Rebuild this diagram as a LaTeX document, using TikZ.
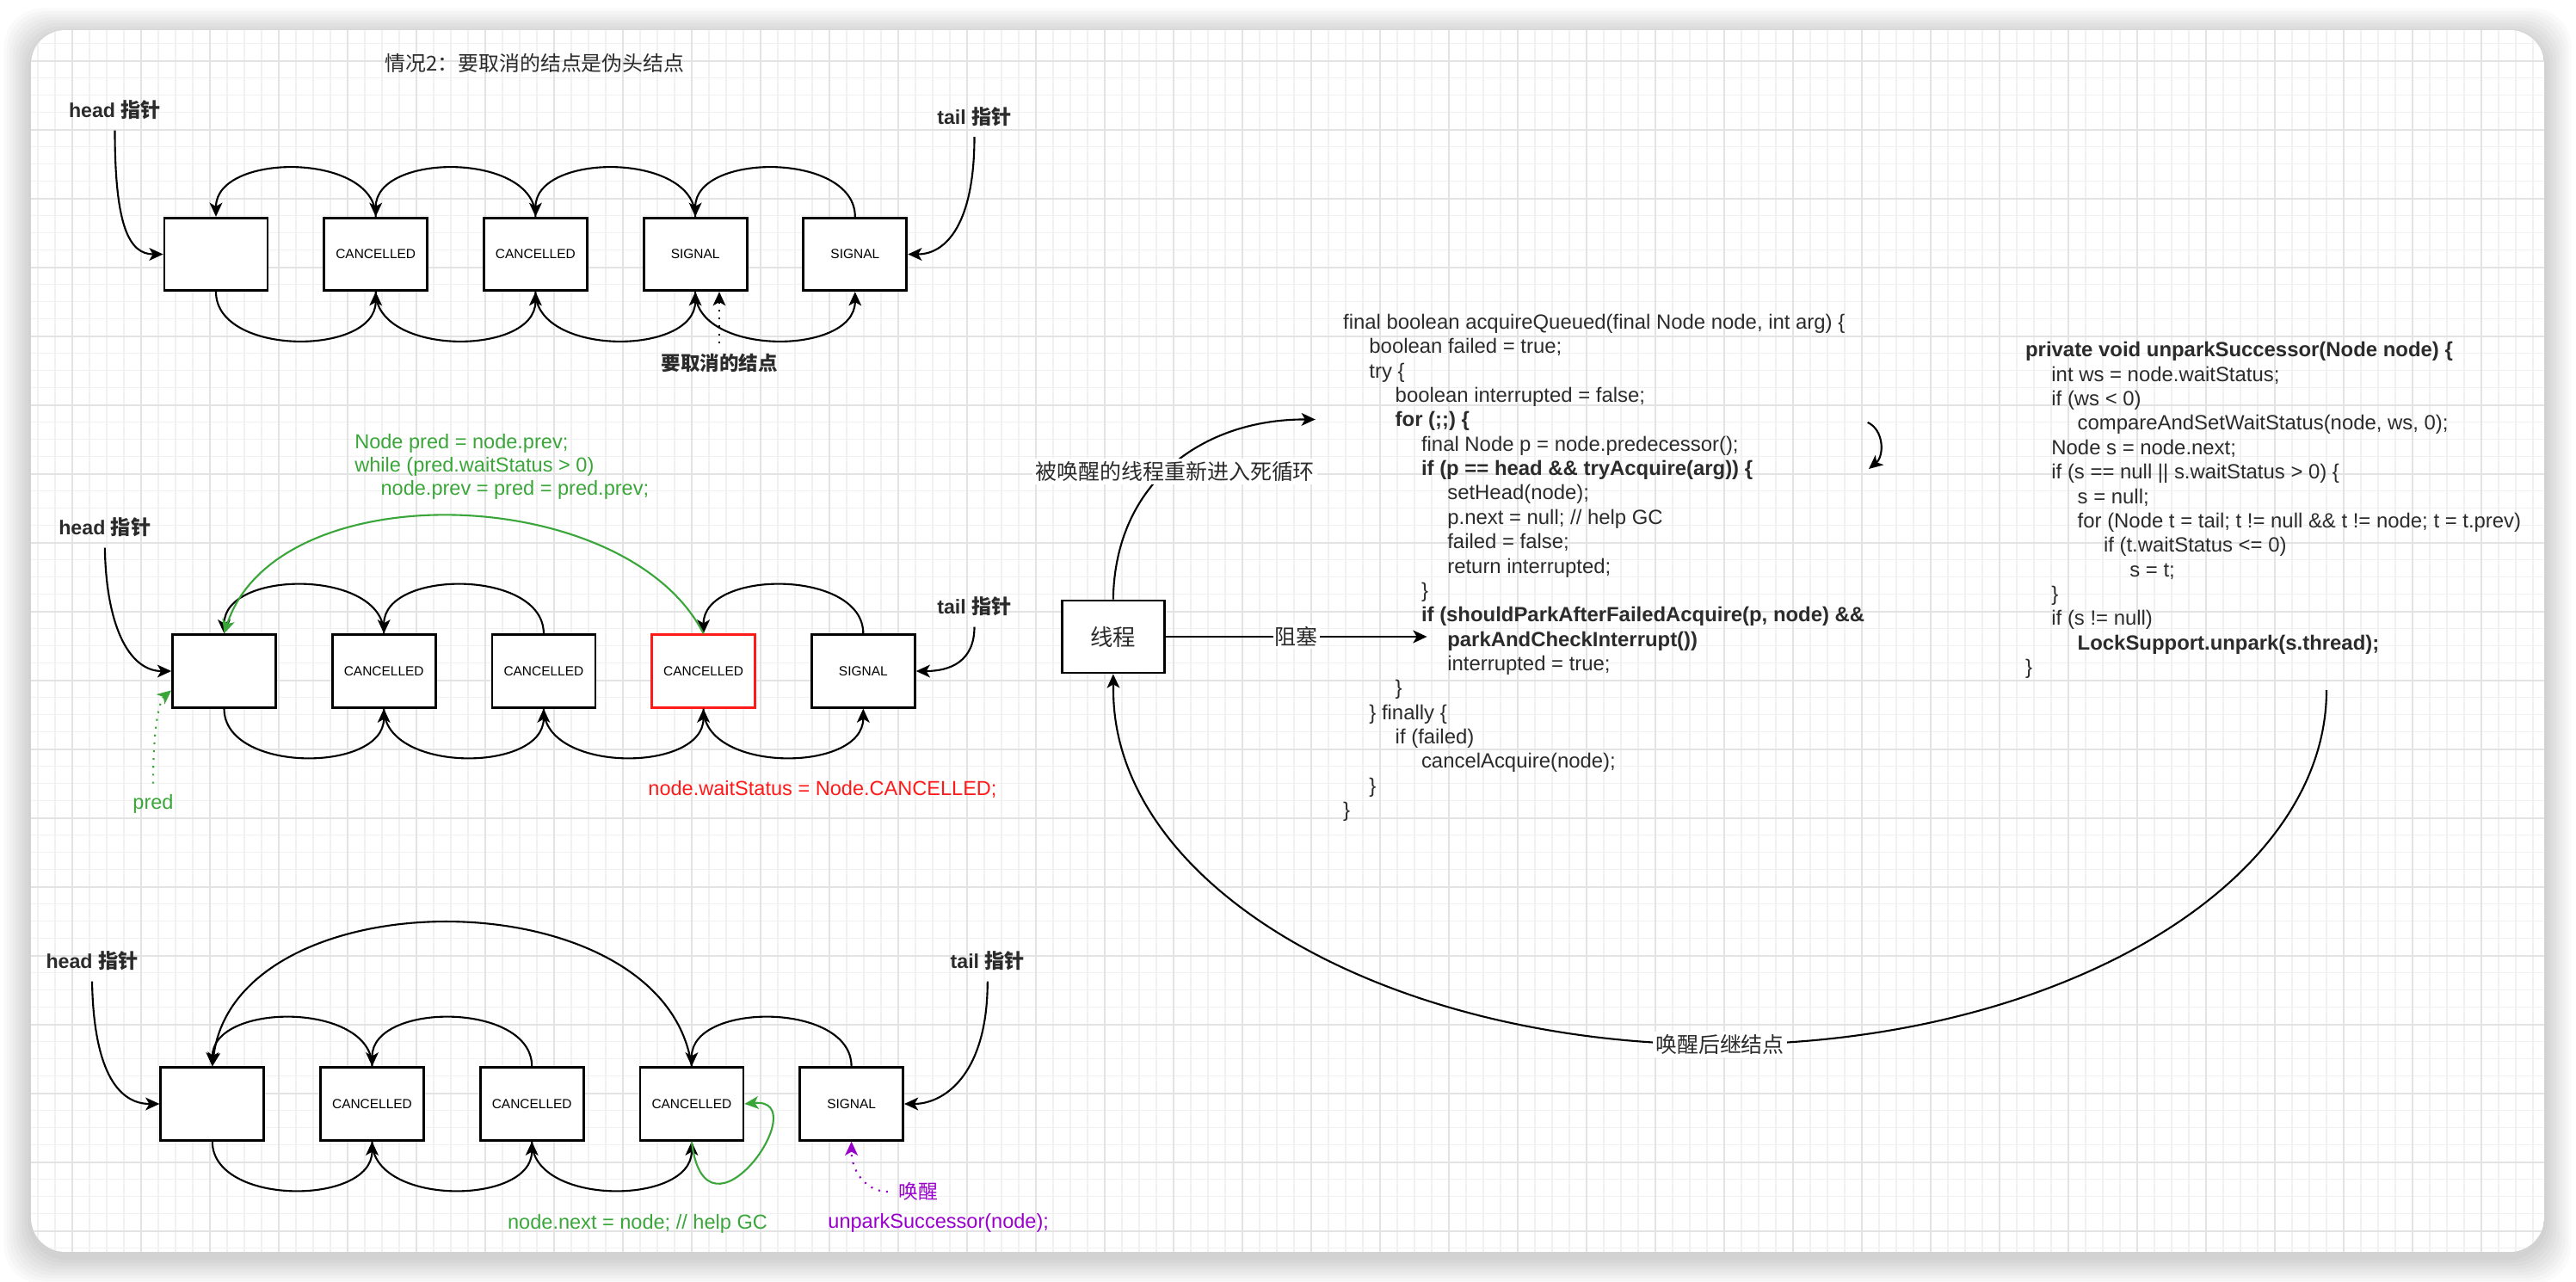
\documentclass[tikz,border=0pt]{standalone}
\usepackage{fontspec}
\setmainfont{Liberation Sans}
\newfontfamily\cjk{Noto Sans CJK SC}
\usetikzlibrary{arrows.meta}
\definecolor{colInk}{HTML}{2B2B2B}
\definecolor{colGreen}{HTML}{3AA63A}
\definecolor{colRed}{HTML}{FF1A1A}
\definecolor{colPurple}{HTML}{9900CC}
\definecolor{colGridMinor}{HTML}{F1F1F1}
\definecolor{colGridMajor}{HTML}{E3E3E3}
\def\codefont{\fontsize{6.8pt}{8.07pt}\selectfont}
\def\notefont{\fontsize{6.7pt}{7.7pt}\selectfont}
\def\ptrfont{\fontsize{6.6pt}{8pt}\selectfont\bfseries}
\def\boxfont{\fontsize{4.4pt}{5.2pt}\selectfont}
\def\cnfont{\fontsize{7.1pt}{8.5pt}\selectfont\cjk}
\newlength\codestep
\setlength\codestep{3.03mm}
\newcommand{\cind}[1]{\hspace*{#1\codestep}}
\newcommand{\qbox}[4][draw=black]{%
  \node[qnode, #1] (#2) at (#3) {#4};}
\newcommand{\prevarc}[2]{%
  \draw[qlink] (#1.north) .. controls +(0,0.75) and +(0,0.75) .. (#2.north);}
\newcommand{\nextarc}[2]{%
  \draw[qlink] (#1.south) .. controls +(0,-0.75) and +(0,-0.75) .. (#2.south);}
\tikzset{
  qnode/.style={rectangle, fill=white, line width=0.8pt, minimum width=1.2cm,
    minimum height=0.845cm, inner sep=0pt, font=\boxfont, text=black},
  qlink/.style={-{Stealth[length=4.6pt, width=4.2pt, inset=1.2pt]}, line width=0.6pt, draw=black},
  ptrlbl/.style={font=\ptrfont, text=colInk},
  notelbl/.style={font=\notefont, text=colInk},
  cnlbl/.style={font=\cnfont, text=colInk},
  % multi-line blocks: base = baseline of the LAST line
  codeblk/.style={font=\codefont, align=left, inner sep=0pt, text=colInk, anchor=base west}
}

\begin{document}
\begin{tikzpicture}
\useasboundingbox (0,0) rectangle (29.94,-14.90);
\fill[white] (0,0) rectangle (29.94,-14.90);

% ===================== CARD + GRID =====================
\foreach \s in {1,...,9}{
  \pgfmathsetmacro{\sw}{\s*0.035}
  \fill[black, opacity=0.018, rounded corners=0.45cm]
    (0.36-\sw,-0.35+\sw-0.06) rectangle (29.57+\sw,-14.55-\sw-0.06);
}
\begin{scope}
  \clip[rounded corners=0.4cm] (0.36,-0.35) rectangle (29.57,-14.55);
  \fill[white] (0.36,-0.35) rectangle (29.57,-14.55);
  \draw[draw=colGridMinor, line width=0.45pt, shift={(0.04,-0.107)}, step=0.2] (0,0.2) grid (29.6,-14.6);
  \draw[draw=colGridMajor, line width=0.6pt, shift={(0.04,-0.707)}, step=0.8] (0,0.8) grid (29.6,-14.4);
\end{scope}

% ===================== ROW 1: dummy head is cancelled =====================
\node[cnlbl, font=\fontsize{6.8pt}{8pt}\selectfont\cjk] (title) at (6.215,-0.73)
  {情况2：要取消的结点是伪头结点};
\node[ptrlbl] (headA) at (1.335,-1.28) {head {\cjk 指针}};
\node[ptrlbl] (tailA) at (11.325,-1.355) {tail {\cjk 指针}};

\qbox{a1}{2.510,-2.955}{}
\qbox{a2}{4.367,-2.955}{CANCELLED}
\qbox{a3}{6.224,-2.955}{CANCELLED}
\qbox{a4}{8.081,-2.955}{SIGNAL}
\qbox{a5}{9.938,-2.955}{SIGNAL}

\prevarc{a2}{a1}
\prevarc{a3}{a2}
\prevarc{a4}{a3}
\prevarc{a5}{a4}
\nextarc{a1}{a2}
\nextarc{a2}{a3}
\nextarc{a3}{a4}
\nextarc{a4}{a5}

\draw[qlink] (headA.south) .. controls +(0,-1.1) and +(-0.4,0) .. (a1.west);
\draw[qlink] (tailA.south) .. controls +(0,-1.0) and +(0.45,0) .. (a5.east);

\node[ptrlbl, font=\fontsize{6.4pt}{8pt}\selectfont\bfseries] (cancelLbl) at (8.36,-4.22) {\cjk 要取消的结点};
\draw[qlink, dotted] (cancelLbl.north) -- (cancelLbl.north |- a4.south);

% ===================== ROW 2: skip cancelled predecessors =====================
\node[codeblk, font=\notefont, text=colGreen] (predCode) at (4.116,-5.76)
  {Node pred = node.prev;\\
   while (pred.waitStatus > 0)\\
   \cind{1}node.prev = pred = pred.prev;};
\node[ptrlbl] (headB) at (1.218,-6.13) {head {\cjk 指针}};
\node[ptrlbl] (tailB) at (11.325,-7.05) {tail {\cjk 指针}};

\qbox{b1}{2.605,-7.80}{}
\qbox{b2}{4.462,-7.80}{CANCELLED}
\qbox{b3}{6.319,-7.80}{CANCELLED}
\qbox[draw=colRed]{b4}{8.176,-7.80}{CANCELLED}
\qbox{b5}{10.033,-7.80}{SIGNAL}

\prevarc{b2}{b1}
\prevarc{b3}{b2}
\prevarc{b5}{b4}
\nextarc{b1}{b2}
\nextarc{b2}{b3}
\nextarc{b3}{b4}
\nextarc{b4}{b5}
\draw[qlink, draw=colGreen] (b4.north) .. controls +(-0.9,1.76) and +(0.61,1.88) .. (b1.north);

\draw[qlink] (headB.south) .. controls +(0.02,-1.0) and +(-0.45,0) .. (b1.west);
\draw[qlink] (tailB.south) .. controls +(0,-0.4) and +(0.4,0) .. (b5.east);

\node[notelbl, text=colGreen] (predLbl) at (1.78,-9.34) {pred};
\draw[qlink, draw=colGreen, dotted] (predLbl.north) .. controls +(0,0.75) and +(-0.12,-0.1) .. (b1.200);
\node[notelbl, text=colRed] (cancelNote) at (9.56,-9.175) {node.waitStatus = Node.CANCELLED;};

% ===================== ROW 3: unlink and wake successor =====================
\node[ptrlbl] (headC) at (1.07,-11.17) {head {\cjk 指针}};
\node[ptrlbl] (tailC) at (11.478,-11.17) {tail {\cjk 指针}};

\qbox{c1}{2.468,-12.83}{}
\qbox{c2}{4.325,-12.83}{CANCELLED}
\qbox{c3}{6.182,-12.83}{CANCELLED}
\qbox{c4}{8.039,-12.83}{CANCELLED}
\qbox{c5}{9.896,-12.83}{SIGNAL}

\prevarc{c2}{c1}
\prevarc{c3}{c2}
\prevarc{c5}{c4}
\nextarc{c1}{c2}
\nextarc{c2}{c3}
\nextarc{c3}{c4}
\draw[qlink] (c4.north) .. controls +(-0.31,2.22) and +(0.27,2.23) .. (c1.north);
\draw[qlink, draw=colGreen] (c4.south) .. controls +(0.16,-1.35) and +(0.85,0.08) .. (c4.east);

\draw[qlink] (headC.south) .. controls +(0.02,-1.1) and +(-0.45,0) .. (c1.west);
\draw[qlink] (tailC.south) .. controls +(0,-1.1) and +(0.45,0) .. (c5.east);

\node[notelbl, text=colGreen] (helpGC) at (7.41,-14.227) {node.next = node; // help GC};
\node[cnlbl, font=\fontsize{6.5pt}{8pt}\selectfont\cjk, text=colPurple] (wakeLbl) at (10.672,-13.85) {唤醒};
\draw[qlink, draw=colPurple, dotted] (wakeLbl.west) .. controls +(-0.25,0) and +(0,-0.35) .. (c5.south);
\node[notelbl, text=colPurple] (unparkCall) at (10.907,-14.217) {unparkSuccessor(node);};

% ===================== RIGHT: thread and the code =====================
\node[qnode, draw=black, font=\fontsize{7.5pt}{9pt}\selectfont\cjk, text=colInk,
  minimum width=1.19cm, minimum height=0.84cm] (thread) at (12.938,-7.40) {线程};

\node[codeblk] (acqCode) at (15.604,-9.497) {%
final boolean acquireQueued(final Node node, int arg) \{\\
\cind{1}boolean failed = true;\\
\cind{1}try \{\\
\cind{2}boolean interrupted = false;\\
\cind{2}\textbf{for (;;) \{}\\
\cind{3}final Node p = node.predecessor();\\
\cind{3}\textbf{if (p == head \&\& tryAcquire(arg)) \{}\\
\cind{4}setHead(node);\\
\cind{4}p.next = null; // help GC\\
\cind{4}failed = false;\\
\cind{4}return interrupted;\\
\cind{3}\}\\
\cind{3}\textbf{if (shouldParkAfterFailedAcquire(p, node) \&\&}\\
\cind{4}\textbf{parkAndCheckInterrupt())}\\
\cind{4}interrupted = true;\\
\cind{2}\}\\
\cind{1}\} finally \{\\
\cind{2}if (failed)\\
\cind{3}cancelAcquire(node);\\
\cind{1}\}\\
\}};

\node[codeblk] (unparkCode) at (23.534,-7.836) {%
\textbf{private void unparkSuccessor(Node node) \{}\\
\cind{1}int ws = node.waitStatus;\\
\cind{1}if (ws < 0)\\
\cind{2}compareAndSetWaitStatus(node, ws, 0);\\
\cind{1}Node s = node.next;\\
\cind{1}if (s == null || s.waitStatus > 0) \{\\
\cind{2}s = null;\\
\cind{2}for (Node t = tail; t != null \&\& t != node; t = t.prev)\\
\cind{3}if (t.waitStatus <= 0)\\
\cind{4}s = t;\\
\cind{1}\}\\
\cind{1}if (s != null)\\
\cind{2}\textbf{LockSupport.unpark(s.thread);}\\
\}};

\coordinate (parkPt) at (16.586,-7.40);
\draw[qlink, line width=0.75pt] (thread.east) -- node[cnlbl, fill=white, inner sep=0.6pt] (blockLbl) {阻塞} (parkPt);

\coordinate (loopIn) at (15.288,-4.875);
\draw[qlink] (thread.north) .. controls +(0.022,1.38) and +(-1.288,0.005) .. (loopIn);
\node[cnlbl, fill=white, inner sep=1pt] (loopLbl) at (13.657,-5.477) {被唤醒的线程重新进入死循环};

\coordinate (spinTop) at (21.707,-4.909);
\coordinate (spinBot) at (21.72,-5.45);
\draw[qlink] (spinTop) .. controls +(0.193,-0.091) and +(0.18,0.15) .. (spinBot);

\coordinate (unparkOut) at (27.04,-8.02);
\draw[qlink] (unparkOut) arc[start angle=0, end angle=-180, x radius=7.05, y radius=4.12] -- (thread.south);
\node[cnlbl, fill=white, inner sep=1pt] (wakeSuccLbl) at (19.99,-12.14) {唤醒后继结点};

\end{tikzpicture}
\end{document}
